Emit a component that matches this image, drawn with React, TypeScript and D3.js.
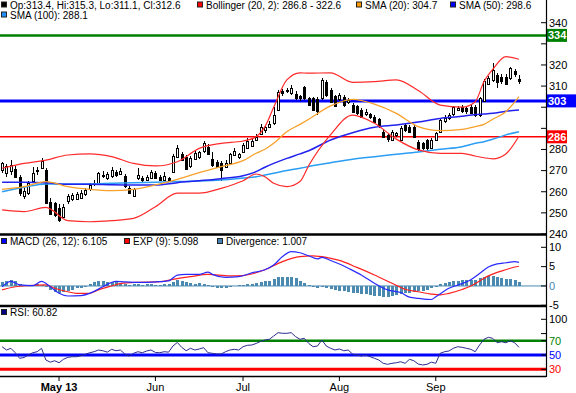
import React from 'react';
import * as d3 from 'd3';

// daily candles, 12 Apr 2013 .. 30 Sep 2013 (119 trading days)
const open = [
  270.3, 268.5, 269.5, 270.8, 267.1, 257.7, 259.3, 265.0, 269.5, 271.6,
  270.3, 255.3, 254.5, 252.5, 248.2, 255.8, 256.4, 256.4, 257.2, 258.9,
  261.3, 263.5, 264.2, 268.0, 266.4, 267.2, 269.2, 268.5, 267.4, 261.9,
  258.0, 266.1, 266.5, 265.6, 266.6, 269.1, 267.1, 265.8, 266.5, 269.5,
  276.6, 278.0, 276.6, 271.9, 275.8, 276.5, 279.0, 281.4, 275.3, 274.2,
  273.4, 271.9, 273.7, 277.4, 276.3, 279.0, 281.0, 281.6, 284.5, 287.7,
  289.2, 290.8, 292.4, 298.7, 307.7, 307.5, 306.6, 306.1, 305.2, 309.5,
  304.2, 304.2, 304.0, 304.5, 312.0, 308.2, 305.5, 303.8, 305.0, 302.5,
  301.0, 300.5, 298.7, 297.0, 296.8, 295.5, 294.3, 288.5, 286.9, 284.5,
  286.9, 284.5, 291.6, 290.8, 290.8, 283.7, 282.9, 284.5, 280.5, 284.5,
  288.5, 293.2, 294.7, 296.8, 298.7, 300.0, 299.5, 300.3, 300.3, 296.3,
  303.0, 311.3, 312.9, 315.2, 314.4, 314.4, 313.7, 317.3, 313.4
];
const high = [
  274.2, 273.0, 274.8, 272.0, 268.0, 262.0, 265.0, 271.5, 271.5, 276.2,
  271.0, 257.0, 255.0, 254.0, 254.0, 259.0, 259.5, 260.0, 261.0, 262.0,
  264.0, 265.5, 269.5, 270.0, 269.5, 271.5, 270.5, 271.0, 268.5, 262.8,
  262.0, 271.0, 267.5, 268.0, 270.5, 270.0, 268.0, 269.5, 267.0, 278.0,
  282.0, 279.0, 277.5, 277.0, 279.5, 279.5, 284.0, 282.5, 278.6, 275.0,
  274.5, 275.0, 278.5, 280.5, 278.5, 283.0, 285.5, 285.0, 287.5, 292.0,
  291.5, 293.5, 300.0, 308.0, 308.5, 309.0, 310.5, 307.5, 306.0, 310.0,
  305.0, 305.0, 305.0, 313.8, 313.0, 309.0, 306.0, 306.5, 306.0, 304.5,
  302.0, 301.0, 299.5, 299.0, 297.5, 296.5, 295.0, 289.5, 287.5, 289.0,
  288.5, 291.0, 292.5, 291.5, 291.5, 284.5, 283.5, 285.0, 285.5, 288.5,
  295.0, 296.5, 297.5, 300.8, 300.5, 301.0, 300.5, 301.0, 301.0, 305.0,
  313.5, 315.0, 320.8, 316.0, 315.5, 315.5, 319.2, 318.0, 315.3
];
const low = [
  268.7, 267.0, 268.0, 266.5, 258.0, 256.5, 258.5, 264.5, 268.0, 271.0,
  254.0, 249.0, 248.0, 245.5, 247.5, 254.0, 255.5, 256.0, 256.5, 258.0,
  260.5, 262.5, 263.8, 266.5, 265.5, 266.5, 267.0, 268.0, 262.0, 259.0,
  257.5, 265.5, 264.8, 265.0, 266.0, 266.0, 265.0, 265.0, 264.5, 268.8,
  276.0, 274.5, 270.5, 271.0, 275.0, 275.5, 278.5, 277.5, 271.9, 271.0,
  265.2, 271.0, 273.0, 277.0, 275.5, 278.5, 280.5, 281.0, 284.0, 287.0,
  288.0, 290.0, 291.8, 298.0, 305.5, 306.5, 306.0, 303.5, 303.0, 303.5,
  300.5, 298.0, 296.3, 303.5, 305.0, 302.0, 300.5, 303.0, 300.0, 301.5,
  297.5, 296.5, 295.0, 296.0, 294.5, 292.5, 290.0, 285.5, 283.5, 283.8,
  286.0, 284.0, 288.5, 288.0, 285.5, 279.5, 279.8, 279.5, 280.0, 284.0,
  288.0, 292.5, 294.0, 296.0, 298.0, 297.5, 297.0, 297.0, 295.5, 295.5,
  302.5, 310.5, 312.0, 309.0, 311.0, 310.5, 313.0, 314.5, 311.1
];
const close = [
  273.4, 272.0, 272.5, 267.1, 259.3, 260.3, 264.0, 269.0, 270.2, 274.7,
  254.5, 249.8, 249.0, 246.6, 253.0, 258.1, 258.4, 258.9, 259.5, 260.8,
  263.3, 264.2, 268.9, 267.4, 268.4, 270.2, 267.9, 269.9, 262.6, 259.6,
  261.2, 267.7, 265.5, 267.1, 269.3, 266.6, 265.6, 267.6, 265.5, 276.9,
  280.9, 275.0, 271.1, 275.8, 278.5, 278.8, 282.9, 278.3, 272.6, 271.9,
  270.3, 273.7, 277.8, 279.5, 277.9, 282.1, 284.2, 284.0, 285.8, 290.8,
  290.5, 292.0, 296.3, 307.4, 306.6, 308.2, 309.0, 304.2, 304.2, 304.2,
  301.0, 298.7, 298.5, 312.9, 305.8, 302.7, 301.0, 305.8, 301.0, 303.6,
  297.9, 297.1, 295.5, 297.9, 295.2, 293.2, 290.8, 286.1, 284.8, 288.5,
  287.7, 290.0, 289.2, 288.5, 286.1, 280.5, 280.5, 280.5, 284.5, 287.7,
  294.0, 294.7, 296.3, 300.0, 299.5, 297.9, 297.9, 297.4, 296.3, 304.2,
  312.6, 314.0, 317.6, 312.0, 312.6, 311.3, 318.4, 316.0, 312.6
];

// month ticks (day index of first session of the month)
const monthLabels = ['May 13', 'Jun', 'Jul', 'Aug', 'Sep'];
const monthIdx = [13, 35, 55, 77, 99];

// overlay values, read at these day indices
const overlayIdx = [0, 5, 10, 15, 20, 25, 30, 35, 40, 45, 50, 55, 58, 60, 62, 65, 68, 70, 75, 80, 85, 90, 95, 100, 105, 108, 110, 112, 115, 118];
const bbUpper = [271.1, 273.4, 275.0, 277.4, 277.9, 276.6, 273.4, 272.2, 274.2, 280.5, 282.9, 284.0, 286.1, 290.8, 300.0, 312.9, 316.3, 316.1, 316.3, 311.8, 312.1, 312.9, 307.9, 301.0, 300.0, 302.6, 312.1, 317.9, 323.9, 322.7];
const bbLower = [251.4, 250.6, 252.6, 246.3, 245.8, 246.3, 247.4, 252.9, 259.3, 259.3, 261.6, 265.2, 268.4, 267.1, 264.0, 262.4, 264.8, 272.4, 287.0, 296.3, 292.4, 284.9, 279.8, 278.2, 278.2, 276.9, 276.1, 275.6, 277.9, 286.4];
const sma20 = [261.1, 262.4, 264.8, 262.4, 261.1, 260.5, 261.1, 263.2, 265.9, 269.0, 271.9, 274.7, 278.2, 280.1, 282.9, 288.4, 291.9, 294.3, 300.6, 303.7, 301.5, 297.1, 290.8, 288.9, 289.5, 290.8, 291.9, 294.3, 297.9, 305.0];
const sma50 = [264.5, 264.5, 264.3, 263.5, 263.5, 263.3, 263.2, 263.2, 264.3, 265.2, 266.2, 267.6, 269.5, 271.6, 273.4, 275.8, 277.9, 279.4, 284.5, 287.9, 290.5, 291.6, 293.0, 294.7, 295.7, 296.6, 296.8, 297.1, 298.1, 298.7];
const sma100 = [260.0, 262.1, 263.7, 263.7, 263.7, 264.0, 264.3, 264.5, 264.8, 265.1, 265.6, 266.5, 267.1, 267.9, 268.7, 270.0, 271.1, 271.9, 273.7, 275.4, 276.6, 277.7, 278.8, 280.1, 281.3, 282.9, 283.7, 284.8, 286.9, 288.4];

// MACD (26,12) and its 9-day EXP, read at these day indices
const macdIdx = [0, 2, 4, 7, 9, 11, 13, 15, 18, 21, 23, 26, 30, 33, 36, 38, 40, 42, 45, 47, 48, 51, 54, 57, 60, 62, 64, 66, 68, 70, 72, 73, 75, 77, 79, 82, 85, 88, 91, 93, 95, 98, 99, 102, 105, 107, 109, 111, 113, 115, 117, 118];
const macd = [-0.2, 1.2, 0.3, 0.1, 1.2, -0.2, -1.9, -2.6, -2.5, -1.4, -0.2, 1.2, 0.95, 0.95, 1.1, 1.3, 2.8, 3.0, 3.0, 3.6, 3.0, 2.2, 2.4, 3.4, 4.2, 5.4, 7.6, 8.9, 8.6, 7.8, 7.0, 7.4, 6.6, 5.7, 4.6, 2.85, 0.7, -1.0, -1.7, -2.9, -3.2, -3.5, -2.8, -0.6, 0.6, 1.6, 3.2, 4.9, 5.7, 6.0, 6.3, 6.1];
const expIdx = [0, 3, 6, 10, 12, 15, 17, 20, 22, 25, 27, 31, 36, 39, 43, 47, 52, 55, 57, 60, 64, 68, 71, 74, 77, 81, 85, 89, 92, 95, 98, 100, 102, 105, 107, 109, 111, 113, 115, 117, 118];
const expLine = [-1.0, -0.2, 0.1, 0.3, -0.6, -1.5, -1.9, -1.9, -1.0, 0.0, 0.6, 0.95, 1.1, 1.7, 2.4, 3.0, 2.6, 2.7, 3.1, 4.2, 6.3, 7.6, 7.8, 7.4, 6.6, 4.8, 2.85, 0.7, -0.86, -1.5, -2.1, -2.3, -1.9, -0.9, 0.0, 1.3, 2.6, 3.5, 4.2, 4.9, 5.1];
// divergence histogram, one bar per day
const divergence = [
  1.0, 1.3, 1.5, 1.3, 0.6, 0.3, 0.1, 0.2, 0.5, 0.3,
  -0.3, -1.0, -1.5, -1.8, -1.6, -1.3, -1.0, -0.6, -0.4, -0.2,
  0.4, 0.9, 1.2, 1.3, 1.1, 1.0, 0.9, 0.7, 0.5, 0.3,
  0.4, 0.5, 0.3, 0.4, 0.4, 0.3, 0.3, 0.4, 0.5, 1.0,
  1.5, 1.2, 0.9, 0.7, 0.6, 0.7, 0.6, 0.3, -0.3, -0.5,
  -0.5, -0.4, -0.3, -0.1, 0.2, 0.3, 0.4, 0.5, 0.8, 1.0,
  1.3, 1.4, 1.7, 2.4, 2.4, 2.4, 2.4, 2.0, 1.2, 0.7,
  0.3, -0.3, -0.5, -0.2, -0.4, -0.8, -1.1, -1.2, -1.3, -1.5,
  -1.7, -1.9, -2.1, -2.2, -2.3, -2.5, -2.6, -2.8, -2.8, -2.7,
  -2.3, -2.1, -1.9, -1.7, -1.5, -1.3, -1.2, -1.0, -0.6, -0.2,
  0.4, 0.8, 1.0, 1.2, 1.4, 1.5, 1.6, 1.55, 1.55, 2.0,
  2.4, 2.6, 2.5, 2.4, 2.0, 1.8, 1.8, 1.6, 1.0
];
// RSI(14), one value per day
const rsi = [
  61.6, 57.0, 59.4, 53.2, 45.4, 46.5, 50.0, 53.2, 54.6, 59.4,
  43.0, 40.0, 42.0, 39.2, 44.0, 46.8, 47.6, 47.6, 49.0, 51.0,
  53.2, 54.6, 57.0, 56.0, 54.0, 58.0, 56.0, 57.0, 51.4, 48.6,
  52.4, 54.6, 53.2, 55.6, 57.0, 53.6, 53.2, 54.6, 54.0, 62.6,
  67.6, 60.8, 56.0, 59.4, 57.0, 58.4, 60.3, 53.2, 52.4, 51.4,
  51.4, 54.6, 57.0, 58.0, 57.0, 61.6, 63.6, 64.0, 66.2, 69.0,
  71.0, 72.0, 76.6, 81.3, 80.4, 80.4, 81.3, 75.7, 72.0, 73.4,
  66.2, 61.6, 62.6, 71.0, 62.6, 59.4, 57.0, 58.4, 56.0, 57.0,
  51.4, 50.0, 48.6, 50.0, 47.6, 45.4, 43.0, 38.4, 37.0, 38.4,
  39.2, 40.6, 38.4, 44.0, 42.0, 37.4, 36.0, 37.0, 40.0, 38.4,
  52.4, 54.6, 55.6, 59.4, 61.6, 60.8, 59.4, 58.0, 54.6, 64.0,
  72.0, 74.8, 73.4, 67.2, 68.6, 67.2, 70.0, 67.2, 60.8
];

const priceTicks = [240, 250, 260, 270, 280, 290, 300, 310, 320, 330, 340];
const priceLevels = [334, 303, 286];
const macdTicks = [10, 5, 0, -5];
const rsiTicks = [100, 80, 70, 50, 30];
const rsiLevels = [70, 50, 30];

const FONT = 'Liberation Sans, Arial, sans-serif';

export default function App() {
  const W = 576, H = 393, right = 546;

  const x = d3.scaleLinear().domain([0, close.length - 1]).range([2.1, 519]);
  const yP = d3.scaleLinear().domain([240, 340]).range([234, 22.7]);
  const yM = d3.scaleLinear().domain([-5, 10]).range([305.3, 247.3]);
  const yR = d3.scaleLinear().domain([30, 100]).range([369.3, 319.3]);

  // smooth line through values read at given day indices
  const sampled = (idx: number[], vals: number[], y: d3.ScaleLinear<number, number>) =>
    d3.line<number>()
      .x((_, i) => x(idx[i]))
      .y(v => y(v))
      .curve(d3.curveMonotoneX)(vals) || '';

  const rsiPath = d3.line<number>().x((_, i) => x(i)).y(v => yR(v))(rsi) || '';

  const levelColor: Record<number, string> = { 334: '#008000', 303: '#0000ff', 286: '#ff0000' };
  const levelWidth: Record<number, number> = { 334: 2.5, 303: 3, 286: 1.5 };
  const levelBox: Record<number, number> = { 334: 21, 303: 30, 286: 21 };
  const rsiColor: Record<number, string> = { 70: '#008000', 50: '#0000ff', 30: '#ff0000' };

  // hide tick labels that sit under a level box
  const hidden = (t: number) => priceLevels.some(l => Math.abs(yP(l) - yP(t)) < 9);

  const legend = (items: { c: string; t: string; x: number }[], y: number) =>
    items.map((it, i) => (
      <g key={i}>
        <rect x={it.x + 0.5} y={y - 6.5} width={5} height={5} fill={it.c} stroke="#222" strokeWidth={1} />
        <text x={it.x + 9} y={y} fontSize={10} fill="#000">{it.t}</text>
      </g>
    ));

  return (
    <svg width={W} height={H} style={{ position: 'absolute', left: 0, top: 0, background: '#fff' }} fontFamily={FONT}>
      <rect x={0} y={0} width={W} height={H} fill="#fff" />

      {/* price level lines */}
      {priceLevels.map(l => (
        <line key={l} x1={0} x2={right} y1={yP(l)} y2={yP(l)} stroke={levelColor[l]} strokeWidth={levelWidth[l]} />
      ))}

      {/* candles */}
      <g shapeRendering="crispEdges">
        {close.map((c, i) => {
          const px = Math.round(x(i));
          const o = open[i];
          const top = yP(Math.max(o, c));
          const h = Math.max(1, Math.abs(yP(o) - yP(c)));
          return (
            <g key={i}>
              <line x1={px + 0.5} x2={px + 0.5} y1={yP(high[i])} y2={yP(low[i])} stroke="#000" />
              <rect x={px - 0.5} y={Math.round(top) + 0.5} width={2} height={Math.round(h)}
                fill={c >= o ? '#fff' : '#000'} stroke="#000" />
            </g>
          );
        })}
      </g>

      {/* overlays */}
      <path d={sampled(overlayIdx, sma100, yP)} fill="none" stroke="#2a9df4" strokeWidth={1.5} />
      <path d={sampled(overlayIdx, sma50, yP)} fill="none" stroke="#2222ee" strokeWidth={1.5} />
      <path d={sampled(overlayIdx, sma20, yP)} fill="none" stroke="#f7a12a" strokeWidth={1.3} />
      <path d={sampled(overlayIdx, bbUpper, yP)} fill="none" stroke="#ff2a2a" strokeWidth={1.2} />
      <path d={sampled(overlayIdx, bbLower, yP)} fill="none" stroke="#ff2a2a" strokeWidth={1.2} />

      {legend([
        { c: '#000', t: 'Op:313.4, Hi:315.3, Lo:311.1, Cl:312.6', x: 1 },
        { c: '#ff0000', t: 'Bollinger (20, 2): 286.8 - 322.6', x: 197 },
        { c: '#ff9900', t: 'SMA (20): 304.7', x: 356 },
        { c: '#0000ff', t: 'SMA (50): 298.6', x: 450 },
      ], 8.5)}
      {legend([{ c: '#1e90ff', t: 'SMA (100): 288.1', x: 1 }], 18.5)}

      {/* price axis */}
      {priceTicks.map(t => (
        <g key={t}>
          <line x1={right - 5} x2={right} y1={yP(t)} y2={yP(t)} stroke="#000" />
          {!hidden(t) && (
            <text x={right + 3} y={yP(t)} dy="0.35em" fontSize={11} fill="#000">{t}</text>
          )}
        </g>
      ))}
      {priceLevels.map(l => (
        <g key={l}>
          <rect x={right} y={yP(l) - 6.5} width={levelBox[l]} height={13} fill={levelColor[l]} />
          <text x={right + 2} y={yP(l)} dy="0.36em" fontSize={11} fontWeight="bold" fill="#fff">{l}</text>
        </g>
      ))}

      {/* MACD panel */}
      <line x1={0} x2={right} y1={yM(0)} y2={yM(0)} stroke="#4a8ab0" strokeWidth={1} />
      <g shapeRendering="crispEdges">
        {divergence.map((d, i) => {
          const px = Math.round(x(i));
          const y0 = yM(0), y1 = yM(d);
          return <rect key={i} x={px - 1} y={Math.min(y0, y1)} width={3} height={Math.abs(y1 - y0)} fill="#4a8ab0" />;
        })}
      </g>
      <path d={sampled(expIdx, expLine, yM)} fill="none" stroke="#ff2020" strokeWidth={1.2} />
      <path d={sampled(macdIdx, macd, yM)} fill="none" stroke="#2a2aff" strokeWidth={1.2} />
      {legend([
        { c: '#0000ff', t: 'MACD (26, 12): 6.105', x: 1 },
        { c: '#ff0000', t: 'EXP (9): 5.098', x: 124 },
        { c: '#4682b4', t: 'Divergence: 1.007', x: 217 },
      ], 245)}
      {macdTicks.map(t => (
        <g key={t}>
          <line x1={right - 5} x2={right} y1={yM(t)} y2={yM(t)} stroke="#000" />
          <text x={right + 3} y={yM(t)} dy="0.35em" fontSize={11} fill={t === 0 ? '#4682b4' : '#000'}>{t}</text>
        </g>
      ))}

      {/* RSI panel */}
      {rsiLevels.map(l => (
        <line key={l} x1={0} x2={right} y1={yR(l)} y2={yR(l)} stroke={rsiColor[l]} strokeWidth={l === 70 ? 2.5 : 3} />
      ))}
      <path d={rsiPath} fill="none" stroke="#2b2b8f" strokeWidth={1} />
      {legend([{ c: '#000080', t: 'RSI: 60.82', x: 1 }], 316)}
      {rsiTicks.map(t => (
        <g key={t}>
          <line x1={right - 5} x2={right} y1={yR(t)} y2={yR(t)} stroke="#000" />
          {t !== 80 && (
            <text x={right + 3} y={yR(t)} dy="0.35em" fontSize={11} fill={rsiColor[t] || '#000'}>{t}</text>
          )}
        </g>
      ))}

      {/* panel frames */}
      <line x1={0} x2={right} y1={234.5} y2={234.5} stroke="#000" strokeWidth={2.5} />
      <line x1={0} x2={right} y1={306} y2={306} stroke="#000" strokeWidth={2.5} />
      <line x1={0} x2={right} y1={376.5} y2={376.5} stroke="#000" strokeWidth={1.5} />
      <line x1={right + 0.5} x2={right + 0.5} y1={0} y2={377} stroke="#000" strokeWidth={1.2} />

      {/* date axis */}
      {monthIdx.map((m, i) => (
        <g key={m}>
          <line x1={x(m)} x2={x(m)} y1={376} y2={381} stroke="#000" />
          <text x={x(m)} y={391} textAnchor="middle" fontSize={11} fontWeight={i === 0 ? 'bold' : 'normal'} fill="#000">
            {monthLabels[i]}
          </text>
        </g>
      ))}
    </svg>
  );
}
